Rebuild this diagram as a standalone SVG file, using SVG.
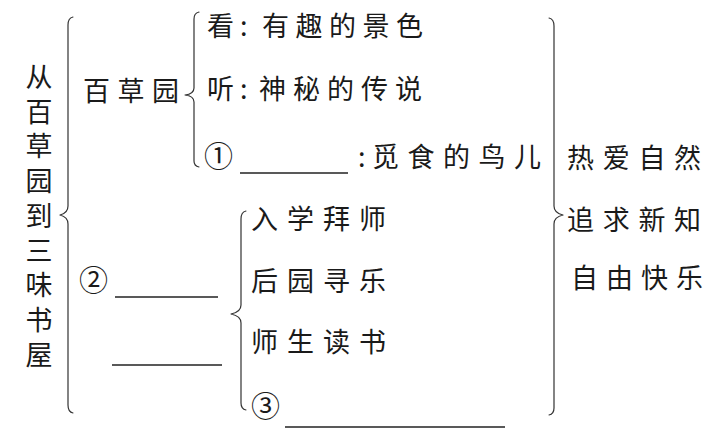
<svg xmlns="http://www.w3.org/2000/svg" width="725" height="436" viewBox="0 0 725 436">
<style>
.t{font-family:"Noto Sans CJK SC","Noto Sans CJK JP",sans-serif;font-size:27px;fill:#1a1a1a;letter-spacing:7px}
.c{letter-spacing:0}
.br{fill:none;stroke:#333;stroke-width:1.2;stroke-linejoin:round;stroke-linecap:round}
.bl{stroke:#222;stroke-width:1.5}
</style>
<rect width="725" height="436" fill="#fff"/>
<g id="title">
<text class="t" x="39" y="63" writing-mode="vertical-rl" style="letter-spacing:7.75px">从百草园到三味书屋</text>
</g>
<g id="baicaoyuan">
<text class="t" x="83" y="101" style="letter-spacing:7.5px">百草园</text>
</g>
<g id="kan">
<text class="t" y="36"><tspan x="207" class="c">看</tspan><tspan x="240" class="c">:</tspan><tspan x="262" style="letter-spacing:6.5px">有趣的景色</tspan></text>
</g>
<g id="ting">
<text class="t" y="99"><tspan x="207" class="c">听</tspan><tspan x="240" class="c">:</tspan><tspan x="259" style="letter-spacing:7px">神秘的传说</tspan></text>
</g>
<g id="blank1">
<text class="t" y="167"><tspan x="204" class="c" style="font-size:29px">①</tspan><tspan x="358" class="c">:</tspan><tspan x="372" style="letter-spacing:8.5px">觅食的鸟儿</tspan></text>
<line class="bl" x1="240" y1="173" x2="348" y2="173"/>
</g>
<g id="blank2">
<text class="t c" x="79" y="291" style="font-size:29px">②</text>
<line class="bl" x1="115" y1="297" x2="218" y2="297"/>
<line class="bl" x1="112" y1="365" x2="222" y2="365"/>
</g>
<g id="sanwei">
<text class="t" x="251" y="229" style="letter-spacing:9px">入学拜师</text>
<text class="t" x="251" y="291" style="letter-spacing:9px">后园寻乐</text>
<text class="t" x="251" y="352" style="letter-spacing:9px">师生读书</text>
<text class="t c" x="251" y="417" style="font-size:29px">③</text>
<line class="bl" x1="285" y1="427" x2="505" y2="427"/>
</g>
<g id="themes">
<text class="t" x="567" y="168" style="letter-spacing:8.7px">热爱自然</text>
<text class="t" x="567" y="230" style="letter-spacing:8.7px">追求新知</text>
<text class="t" x="571" y="288" style="letter-spacing:8px">自由快乐</text>
</g>
<g id="connectors">
<path class="br" d="M73,17 Q68,18 68,25 L68,206 Q68,213 60,215 Q68,217 68,224 L68,405 Q68,412 73,413"/>
<path class="br" d="M199,12 Q194,13 194,19 L194,88 Q194,94 185,95 Q194,96 194,102 L194,161 Q194,166 199,167"/>
<path class="br" d="M246,211 Q241,212 241,219 L241,305 Q241,312 231,314 Q241,316 241,323 L241,403 Q241,409 246,410"/>
<path class="br" d="M549,18 Q554,19 554,26 L554,206 Q554,213 563,215 Q554,217 554,224 L554,408 Q554,414 549,415"/>
</g>
</svg>
